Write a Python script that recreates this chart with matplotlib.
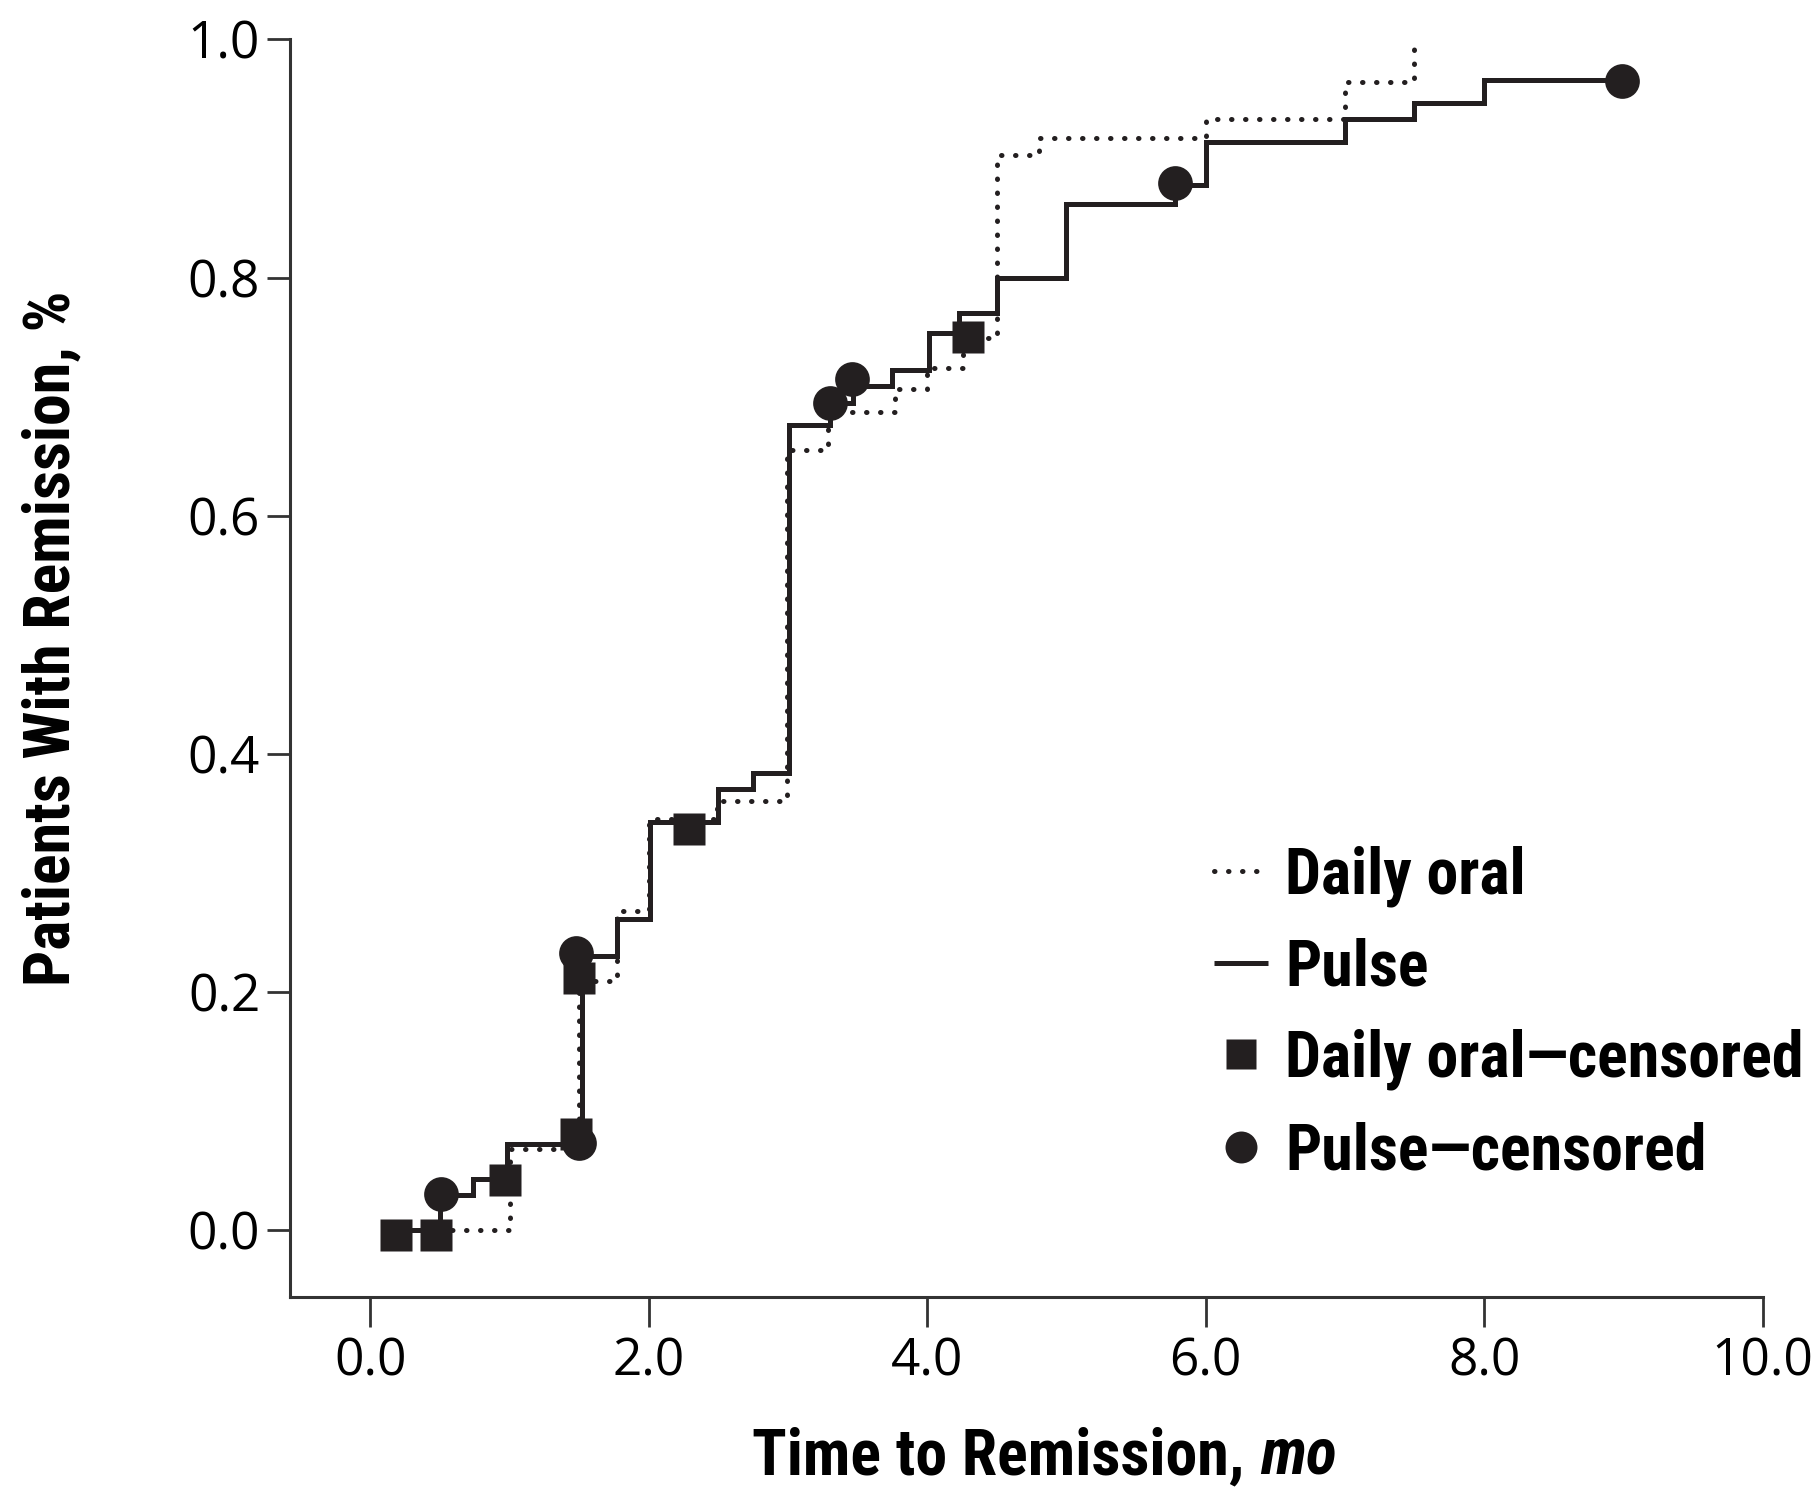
import matplotlib
matplotlib.use('Agg')
import matplotlib.pyplot as plt
from matplotlib.lines import Line2D

# ---------------- data ----------------
daily_t = [0.18, 1.00, 1.50, 1.77, 2.00, 2.49, 2.99, 3.29, 3.77, 4.00, 4.26, 4.50, 4.80, 6.00, 7.00, 7.50]
daily_v = [0.000, 0.068, 0.209, 0.268, 0.345, 0.360, 0.655, 0.687, 0.706, 0.724, 0.749, 0.903, 0.917, 0.933, 0.964, 1.000]

pulse_t = [0.18, 0.50, 0.74, 0.98, 1.52, 1.77, 2.01, 2.50, 2.75, 3.01, 3.30, 3.47, 3.75, 4.01, 4.23, 4.50, 5.00, 5.78, 6.00, 7.00, 7.50, 8.00, 9.00]
pulse_v = [0.000, 0.029, 0.043, 0.072, 0.230, 0.261, 0.343, 0.370, 0.384, 0.676, 0.695, 0.709, 0.722, 0.753, 0.770, 0.800, 0.862, 0.878, 0.914, 0.933, 0.947, 0.966, 0.966]

daily_cens_t = [0.18, 0.47, 0.97, 1.48, 1.50, 2.29, 4.29]
daily_cens_v = [-0.004, -0.004, 0.042, 0.081, 0.212, 0.337, 0.750]

pulse_cens_t = [0.51, 1.50, 1.48, 3.30, 3.46, 5.78, 8.99]
pulse_cens_v = [0.030, 0.073, 0.233, 0.695, 0.715, 0.879, 0.965]

x_ticks = [0, 2, 4, 6, 8, 10]
x_tick_labels = ['0.0', '2.0', '4.0', '6.0', '8.0', '10.0']
y_ticks = [0.0, 0.2, 0.4, 0.6, 0.8, 1.0]
y_tick_labels = ['0.0', '0.2', '0.4', '0.6', '0.8', '1.0']

legend_labels = ['Daily oral', 'Pulse', 'Daily oral\u2014censored', 'Pulse\u2014censored']

# ---------------- styling ----------------
W, H, DPI = 1815, 1494, 100
INK = '#231f20'
BOLD = ['Roboto Condensed', 'Open Sans Condensed', 'Liberation Sans Narrow', 'DejaVu Sans']
TICKF = ['Open Sans', 'DejaVu Sans']
FS_BOLD = 46
FS_TICK = 37
DOT = (0, (0.1, 2.7))

fig = plt.figure(figsize=(W / DPI, H / DPI), dpi=DPI)
ax = fig.add_axes([290 / W, 1 - 1296.7 / H, (1762.5 - 290) / W, (1296.7 - 39.4) / H])

ax.step(daily_t, daily_v, where='post', color=INK, lw=3.6,
        linestyle=DOT, dash_capstyle='round', clip_on=False, zorder=2)
ax.step(pulse_t, pulse_v, where='post', color=INK, lw=3.6,
        solid_capstyle='butt', solid_joinstyle='miter', clip_on=False, zorder=2)
ax.plot(daily_cens_t, daily_cens_v, 's', ms=23.5, color=INK, mec='none', clip_on=False, zorder=3)
ax.plot(pulse_cens_t, pulse_cens_v, 'o', ms=25, color=INK, mec='none', clip_on=False, zorder=3)

ax.set_xlim(-0.578, 10)
ax.set_ylim(-0.056, 1.0)
for s in ['top', 'right']:
    ax.spines[s].set_visible(False)
for s in ['left', 'bottom']:
    ax.spines[s].set_linewidth(2.2)
    ax.spines[s].set_color('#333333')

ax.set_xticks(x_ticks)
ax.set_xticklabels(x_tick_labels, family=TICKF, fontsize=FS_TICK)
ax.set_yticks(y_ticks)
ax.set_yticklabels(y_tick_labels, family=TICKF, fontsize=FS_TICK)
ax.tick_params(axis='x', length=21.6, width=2.0, color='#333333', pad=7)
ax.tick_params(axis='y', length=16.5, width=2.0, color='#333333', pad=5)

bold_kw = dict(family=BOLD, weight='bold', stretch='condensed', fontsize=FS_BOLD)

# y label
fig.text(52 / W, 1 - 638 / H, 'Patients With Remission, %', rotation=90,
         ha='center', va='center', **bold_kw)

# x label with italic "mo"
XL_BASE = 1474
t1 = fig.text(752 / W, 1 - XL_BASE / H, 'Time to Remission,', ha='left', va='baseline', **bold_kw)
fig.canvas.draw()
bb = t1.get_window_extent(fig.canvas.get_renderer())
fig.text((bb.x1 + 0.25 * FS_BOLD * DPI / 72) / W, 1 - XL_BASE / H, 'mo', ha='left', va='baseline',
         style='italic', **bold_kw)

# legend
handles = [
    Line2D([], [], color=INK, lw=3.6, linestyle=DOT, dash_capstyle='round'),
    Line2D([], [], color=INK, lw=3.6, solid_capstyle='butt'),
    Line2D([], [], color=INK, marker='s', ms=21, mec='none', linestyle='none'),
    Line2D([], [], color=INK, marker='o', ms=23, mec='none', linestyle='none'),
]
leg = fig.legend(handles, legend_labels, loc='upper left',
                 bbox_to_anchor=(1214 / W, 1 - 845 / H), bbox_transform=fig.transFigure,
                 frameon=False, borderpad=0, borderaxespad=0, handlelength=0.85,
                 handletextpad=0.26, labelspacing=0.48,
                 prop={'family': BOLD, 'weight': 'bold', 'stretch': 'condensed', 'size': FS_BOLD})

fig.savefig('out.png', dpi=DPI, facecolor='white')
